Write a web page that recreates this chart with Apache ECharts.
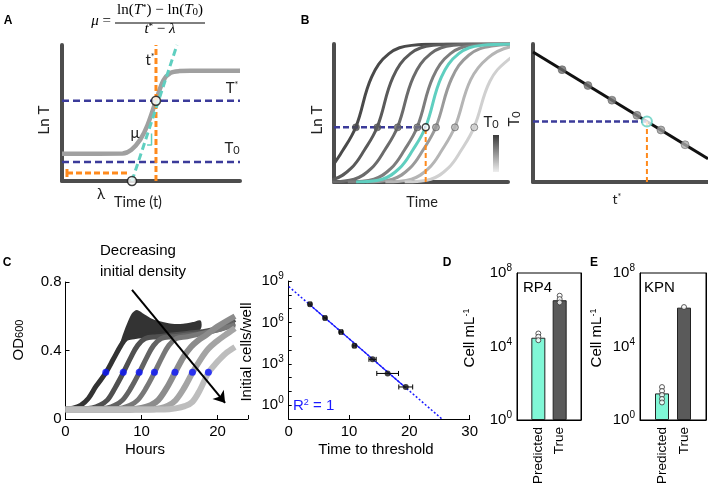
<!DOCTYPE html>
<html><head><meta charset="utf-8">
<script src="https://cdn.jsdelivr.net/npm/echarts@6/dist/echarts.min.js"></script>
<style>html,body{margin:0;padding:0;background:#fff}#c{width:708px;height:496px}</style>
</head><body><div id="c"></div>
<script>
// ================= DATA =================
// Panel A (schematic, arbitrary units 0-10)
const aCurveT   = [0, 3.4, 3.9, 4.4, 4.8, 5.28, 5.7, 6.1, 6.6, 7.2, 10];
const aCurveLnT = [2.0, 2.02, 2.3, 3.05, 4.1, 5.9, 7.4, 7.95, 8.08, 8.1, 8.1];
const aThresholdLnT = 5.9;   // T*
const aInitialLnT = 1.4;     // T0
const aThresholdTime = 5.28; // t*
const aLagTime = 3.93;       // lambda
const aTangentT = [3.93, 6.46];
const aTangentLnT = [0, 10];
const aLagBarT = [0.28, 3.7];
const aLagBarLnT = 0.59;

// Panel B left (schematic growth curves)
const bCurveT = [
  [-2.74,-1.24,-0.24,0.51,1.26,2.16,3.16,4.46,6.26,12],
  [-1.51,-0.01,0.99,1.74,2.49,3.39,4.39,5.69,7.49,12],
  [-0.34,1.16,2.16,2.91,3.66,4.56,5.56,6.86,8.66,12],
  [0.79,2.29,3.29,4.04,4.79,5.69,6.69,7.99,9.79,12],
  [1.27,2.77,3.77,4.52,5.27,6.17,7.17,8.47,10.27,12],
  [1.86,3.36,4.36,5.11,5.86,6.76,7.76,9.06,10.86,12],
  [2.95,4.45,5.45,6.2,6.95,7.85,8.85,10.15,11.95,13],
  [4.06,5.56,6.56,7.31,8.06,8.96,9.96,11.26,13.06,14]
];
const bCurveLnT = [
  [0,0.2,1.0,2.3,4.0,7.6,9.3,9.9,10,10],
  [0,0.2,1.0,2.3,4.0,7.6,9.3,9.9,10,10],
  [0,0.2,1.0,2.3,4.0,7.6,9.3,9.9,10,10],
  [0,0.2,1.0,2.3,4.0,7.6,9.3,9.9,10,10],
  [0,0.2,1.0,2.3,4.0,7.6,9.3,9.9,10,10],
  [0,0.2,1.0,2.3,4.0,7.5,9.2,9.85,10,10],
  [0,0.2,1.0,2.3,4.0,7.4,9.0,9.8,10,10],
  [0,0.2,1.0,2.3,4.0,7.3,8.8,9.7,10,10]
];
const bCurveColors = ['#4a4a4a','#5a5a5a','#6b6b6b','#7d7d7d','#5fcfc0','#9a9a9a','#b5b5b5','#d0d0d0'];
const bCrossT = [1.26, 2.49, 3.66, 4.79, 5.27, 5.86, 6.95, 8.06];
const bThresholdLnT = 3.96;
const bTealIndex = 4;
// Panel B right
const bLineT = [0, 10];
const bLineT0 = [9.42, 1.69];
const bDotT = [1.66, 3.14, 4.51, 5.94, 7.31, 8.69];
const bDotT0 = [8.14, 6.99, 5.93, 4.83, 3.77, 2.70];
const bDotColors = ['#6a6a6a','#727272','#7c7c7c','#888888','#999999','#aaaaaa'];
const bQueryT = 6.51, bQueryT0 = 4.39;

// Panel C left: OD600 growth curves (hours, OD)
const cGroupHours = [
  [0,1,2,3,4,5.3,6.3,7.3,8,9,11,13,15,17.7],
  [0,2,3.5,4.5,5.5,6.5,7.6,8.6,9.5,10.5,12,14,16,18,20,22.3],
  [0,4,5.5,6.5,7.5,8.6,9.7,10.7,11.6,12.6,14,16,18,20,22.3],
  [0,6,7.5,8.5,9.5,10.6,11.7,12.7,13.6,14.6,16,18,20,22.3],
  [0,8.5,10,11.2,12.2,13.3,14.4,15.5,16.5,17.5,18.5,20,22.3],
  [0,11,12.5,13.5,14.5,15.6,16.7,17.8,18.8,19.8,21,22.3],
  [0,13,14.5,15.7,16.7,17.7,18.8,19.9,21,22.3]
];
const cGroupOD = [
  [0.058,0.063,0.08,0.12,0.19,0.27,0.35,0.43,0.47,0.48,0.49,0.5,0.51,0.53],
  [0.058,0.06,0.065,0.08,0.11,0.18,0.27,0.36,0.43,0.47,0.48,0.49,0.5,0.51,0.53,0.58],
  [0.058,0.058,0.065,0.08,0.11,0.18,0.27,0.36,0.43,0.47,0.48,0.49,0.5,0.52,0.56],
  [0.057,0.057,0.065,0.08,0.11,0.18,0.27,0.36,0.43,0.47,0.48,0.5,0.52,0.55],
  [0.056,0.056,0.064,0.08,0.11,0.18,0.27,0.36,0.42,0.46,0.49,0.54,0.6],
  [0.055,0.055,0.063,0.078,0.11,0.18,0.27,0.35,0.41,0.45,0.49,0.53],
  [0.055,0.055,0.062,0.075,0.1,0.17,0.27,0.33,0.38,0.42]
];
const cGroupColors = ['#333333','#505050','#636363','#787878','#8c8c8c','#a4a4a4','#bdbdbd'];
// replicate spread of the densest culture
const cBandHours = [7.3, 8, 8.8, 9.4, 10.2, 11.3, 12.4, 14, 15.5, 16.8, 17.7];
const cBandLow   = [0.43,0.47,0.475,0.48,0.485,0.49,0.495,0.5,0.51,0.52,0.53];
const cBandHigh  = [0.44,0.53,0.61,0.63,0.61,0.58,0.565,0.55,0.55,0.56,0.57];
const cThresholdHours = [5.3, 7.6, 9.7, 11.7, 14.4, 16.7, 18.8];
const cThresholdOD    = [0.273,0.273,0.273,0.273,0.273,0.273,0.273];

// Panel C right: initial cells vs time to threshold
const crTime    = [3.53, 6.02, 8.67, 10.9, 13.9, 16.4, 19.4];
const crCells   = [2.1e7, 2.1e6, 2.0e5, 2.0e4, 2.1e3, 2.0e2, 21];
const crTimeErr = [0.2, 0.2, 0.25, 0.25, 0.6, 1.8, 1.15];
const crFitDottedT = [0, 25.4];
const crFitDottedCells = [4e8, 0.1];
const crFitSolidT = [3.53, 19.4];
const crFitSolidCells = [1.86e7, 18.6];

// Panel D (RP4) and E (KPN)
const barCategories = ['', 'Predicted', 'True', ''];
const dPredicted = 3.0e4, dTrue = 3.3e6;
const dPredictedReps = [5.1e4, 3.4e4, 2.2e4];
const dTrueReps = [5.8e6, 3.8e6, 2.5e6];
const ePredicted = 28, eTrue = 1.3e6;
const ePredictedReps = [62, 38, 23, 14, 9];
const eTrueReps = [1.4e6];

// ================= STYLE =================
const FA = 'Lato, "Open Sans", sans-serif';
const FC = '"Liberation Sans", Arial, Helvetica, sans-serif';
const FS = '"Liberation Serif", "DejaVu Serif", serif';
const NAVY = '#3b3b9a', ORANGE = '#ff8a1c', TEAL = '#5fcfc0', AXG = '#4d4d4d';
const lg = Math.log10;

function schemAxis(grid){
  return {type:'value', gridIndex:grid, min:0, max:10,
    axisLine:{show:true, onZero:false, lineStyle:{color:AXG, width:4}},
    axisTick:{show:false}, axisLabel:{show:false}, splitLine:{show:false}};
}
function seg(xi, yi, pts, color, width, type, z){
  return {type:'line', xAxisIndex:xi, yAxisIndex:yi, data:pts, symbol:'none', silent:true, z:z||2,
    lineStyle:{color, width, type:type||'solid'}};
}
const supRich = {
  b:{fontSize:15, color:'#000', fontFamily:FC},
  s:{fontSize:10, color:'#000', fontFamily:FC, padding:[0,0,9,0]}
};
function powLabel(show){ return v => show.includes(Math.round(v)) && Math.abs(v-Math.round(v))<1e-6 ? '{b|10}{s|'+Math.round(v)+'}' : ''; }
function matAxisX(grid, min, max, interval){
  return {type:'value', gridIndex:grid, min, max, interval,
    axisLine:{onZero:false, lineStyle:{color:'#000', width:1}},
    axisTick:{inside:true, length:4, lineStyle:{color:'#000'}},
    axisLabel:{color:'#000', fontSize:15, fontFamily:FC, margin:5,
      formatter: v => (Math.abs(v % interval) < 1e-9 ? String(v) : '')},
    splitLine:{show:false}};
}
function txt(text, x, y, o){
  o = o || {};
  const st = {text, fill:o.color||'#000', fontSize:o.size||14, fontFamily:o.font||FC,
    fontWeight:o.weight||'normal', fontStyle:o.style||'normal',
    align:o.align||'center', verticalAlign:o.va||'middle',
    textAlign:o.align||'center', textVerticalAlign:o.va||'middle'};
  if (o.rich) st.rich = o.rich;
  return {type:'text', x, y, rotation:o.rot||0, z:100, silent:true, style:st};
}
function rr(font, size, color){
  color = color || '#000';
  return {
    n:{fontFamily:font, fontSize:size, fill:color, color, padding:[0,0,3,0]},
    i:{fontFamily:font, fontSize:size, fill:color, color, fontStyle:'italic', padding:[0,0,3,0]},
    sup:{fontFamily:font, fontSize:Math.round(size*0.62), fill:color, color, padding:[0,0,Math.round(size*0.6),0]},
    sub:{fontFamily:font, fontSize:Math.round(size*0.7), fill:color, color}
  };
}

// ================= SERIES =================
const series = [];
// ---- A ----
series.push(seg(0,0,[[0,aInitialLnT],[10,aInitialLnT]], NAVY, 2.5, [7,4]));
series.push(seg(0,0,[[0,aThresholdLnT],[10,aThresholdLnT]], NAVY, 2.5, [7,4]));
series.push({type:'line', xAxisIndex:0, yAxisIndex:0, symbol:'none', smooth:0.35, silent:true,
  data:aCurveT.map((t,i)=>[t,aCurveLnT[i]]), lineStyle:{color:'#a0a0a0', width:4.5}});
series.push(seg(0,0,[[aLagBarT[0],aLagBarLnT],[aLagBarT[1],aLagBarLnT]], ORANGE, 3, [6,3], 3));
series.push(seg(0,0,[[aLagBarT[0],aLagBarLnT-0.3],[aLagBarT[0],aLagBarLnT+0.3]], ORANGE, 3, 'solid', 3));
series.push(seg(0,0,[[aThresholdTime,0],[aThresholdTime,10]], ORANGE, 3, [6,3], 3));
series.push(seg(0,0,aTangentT.map((t,i)=>[t,aTangentLnT[i]]), TEAL, 3, [7,4], 4));
series.push(seg(0,0,[[4.78,2.65],[5.03,2.65],[5.03,3.5]], TEAL, 1.5, 'solid', 4));
series.push({type:'scatter', xAxisIndex:0, yAxisIndex:0, symbolSize:9, z:5, silent:true,
  data:[[aLagTime,0],[aThresholdTime,aThresholdLnT]],
  itemStyle:{color:'#fff', borderColor:'#111', borderWidth:1.5}});

// ---- B left ----
bCurveT.forEach((ts,k)=>{
  series.push({type:'line', xAxisIndex:1, yAxisIndex:1, symbol:'none', smooth:0.4, silent:true,
    z: k===bTealIndex ? 3 : 2,
    data:ts.map((t,i)=>[t,bCurveLnT[k][i]]), lineStyle:{color:bCurveColors[k], width:3}});
});
series.push(seg(1,1,[[0,bThresholdLnT],[bCrossT[bTealIndex],bThresholdLnT]], NAVY, 2.5, [6,3], 4));
series.push(seg(1,1,[[bCrossT[bTealIndex],0],[bCrossT[bTealIndex],bThresholdLnT]], ORANGE, 2, [5,3], 4));
series.push({type:'scatter', xAxisIndex:1, yAxisIndex:1, symbolSize:7, z:5, silent:true,
  data:bCrossT.map((t,k)=>({value:[t,bThresholdLnT],
    itemStyle: k===bTealIndex ? {color:'#fff', borderColor:'#111', borderWidth:1.5}
                              : {color:bCurveColors[k], borderColor:'#555', borderWidth:0.8}}))});
// ---- B right ----
series.push(seg(2,2,bLineT.map((t,i)=>[t,bLineT0[i]]), '#111', 3));
series.push(seg(2,2,[[0,bQueryT0],[bQueryT,bQueryT0]], NAVY, 2.5, [6,3], 3));
series.push(seg(2,2,[[bQueryT,0],[bQueryT,bQueryT0]], ORANGE, 2, [5,3], 3));
series.push({type:'scatter', xAxisIndex:2, yAxisIndex:2, symbolSize:8, z:5, silent:true,
  data:bDotT.map((t,i)=>({value:[t,bDotT0[i]], itemStyle:{color:bDotColors[i], borderColor:'#555', borderWidth:0.6}}))});
series.push({type:'scatter', xAxisIndex:2, yAxisIndex:2, symbolSize:10, z:6, silent:true,
  data:[[bQueryT,bQueryT0]], itemStyle:{color:'#fff', borderColor:TEAL, borderWidth:2}});

// ---- C left ----
series.push({type:'custom', xAxisIndex:3, yAxisIndex:3, silent:true, z:2,
  data:[[cBandHours[0], cBandLow[0]]],
  renderItem:(params, api)=>{
    const pts = [];
    cBandHours.forEach((h,i)=>pts.push(api.coord([h, cBandHigh[i]])));
    for (let i=cBandHours.length-1;i>=0;i--) pts.push(api.coord([cBandHours[i], cBandLow[i]]));
    return {type:'polygon', shape:{points:pts, smooth:0.25}, style:{fill:cGroupColors[0], stroke:cGroupColors[0], lineWidth:2}};
  }});
cGroupHours.forEach((hs,k)=>{
  series.push({type:'line', xAxisIndex:3, yAxisIndex:3, symbol:'none', smooth:0.35, silent:true,
    data:hs.map((h,i)=>[h,cGroupOD[k][i]]), lineStyle:{color:cGroupColors[k], width:k<4?5:6}});
});
series.push({type:'scatter', xAxisIndex:3, yAxisIndex:3, symbolSize:7, z:5, silent:true,
  data:cThresholdHours.map((h,i)=>[h,cThresholdOD[i]]), itemStyle:{color:'#0a14ff'},
  markLine:{silent:true, animation:false, symbol:['none','arrow'], symbolSize:11,
    label:{show:false}, lineStyle:{color:'#000', width:2, type:'solid'},
    data:[[{coord:[8.75,0.754]},{coord:[21.0,0.094]}]]}});

// ---- C right ----
series.push({type:'line', xAxisIndex:4, yAxisIndex:4, symbol:'none', silent:true,
  data:crFitDottedT.map((t,i)=>[t,lg(crFitDottedCells[i])]), lineStyle:{color:'#1a1aff', width:1.5, type:[2,2]}});
series.push({type:'line', xAxisIndex:4, yAxisIndex:4, symbol:'none', silent:true, z:3,
  data:crFitSolidT.map((t,i)=>[t,lg(crFitSolidCells[i])]), lineStyle:{color:'#1a1aff', width:1.2}});
series.push({type:'custom', xAxisIndex:4, yAxisIndex:4, z:4, silent:true,
  data:crTime.map((t,i)=>[t-crTimeErr[i], t+crTimeErr[i], lg(crCells[i])]),
  encode:{x:[0,1], y:2},
  renderItem:(params, api)=>{
    const a = api.coord([api.value(0), api.value(2)]);
    const b = api.coord([api.value(1), api.value(2)]);
    const st = {stroke:'#000', lineWidth:1};
    return {type:'group', children:[
      {type:'line', shape:{x1:a[0],y1:a[1],x2:b[0],y2:b[1]}, style:st},
      {type:'line', shape:{x1:a[0],y1:a[1]-2.5,x2:a[0],y2:a[1]+2.5}, style:st},
      {type:'line', shape:{x1:b[0],y1:b[1]-2.5,x2:b[0],y2:b[1]+2.5}, style:st}
    ]};
  }});
series.push({type:'scatter', xAxisIndex:4, yAxisIndex:4, symbolSize:6, z:5, silent:true,
  data:crTime.map((t,i)=>[t,lg(crCells[i])]), itemStyle:{color:'#111'}});

// ---- D & E ----
function barPanel(xi, yi, pred, tru, predReps, trueReps){
  series.push({type:'bar', xAxisIndex:xi, yAxisIndex:yi, barWidth:14, silent:true,
    data:['-', {value:lg(pred), itemStyle:{color:'#80f7d6'}}, {value:lg(tru), itemStyle:{color:'#5a5a5a'}}, '-'],
    itemStyle:{borderColor:'#222', borderWidth:1}});
  series.push({type:'scatter', xAxisIndex:xi, yAxisIndex:yi, symbolSize:5, z:5, silent:true,
    data:predReps.map(v=>[1,lg(v)]).concat(trueReps.map(v=>[2,lg(v)])),
    itemStyle:{color:'#fff', borderColor:'#333', borderWidth:1}});
}
barPanel(5, 5, dPredicted, dTrue, dPredictedReps, dTrueReps);
barPanel(6, 7, ePredicted, eTrue, ePredictedReps, eTrueReps);

// ================= AXES =================
function catAxis(grid){
  return {type:'category', gridIndex:grid, data:barCategories, boundaryGap:false,
    axisLine:{onZero:false, lineStyle:{color:'#000', width:1}},
    axisTick:{inside:true, length:3, interval:(i)=>i===1||i===2, lineStyle:{color:'#000'}},
    axisLabel:{interval:0, rotate:90, color:'#000', fontSize:13.5, fontFamily:FC, margin:7},
    splitLine:{show:false}};
}
function logBarAxis(grid, right){
  return {type:'value', gridIndex:grid, min:0, max:8, interval:1, position:right?'right':'left',
    axisLine:{show:true, onZero:false, lineStyle:{color:'#000', width:1}},
    axisTick:{inside:true, length:3, lineStyle:{color:'#000'}},
    axisLabel: right ? {show:false} : {color:'#000', margin:5, formatter:powLabel([0,4,8]), rich:supRich},
    splitLine:{show:false}};
}
const gridBase = {containLabel:false, outerBoundsMode:'none'};
const option = {
  animation:false,
  backgroundColor:'#fff',
  grid:[
    Object.assign({left:62, top:45, width:178, height:136}, gridBase),
    Object.assign({left:334, top:44, width:174, height:138}, gridBase),
    Object.assign({left:533, top:44, width:175, height:138}, gridBase),
    Object.assign({left:65.5, top:282, width:182.4, height:137}, gridBase),
    Object.assign({left:288.7, top:281, width:181, height:138}, gridBase),
    Object.assign({left:517, top:273, width:64, height:147, show:true, borderColor:'#000', borderWidth:1}, gridBase),
    Object.assign({left:640, top:273, width:66, height:147, show:true, borderColor:'#000', borderWidth:1}, gridBase)
  ],
  xAxis:[
    schemAxis(0), schemAxis(1), schemAxis(2),
    matAxisX(3, 0, 24, 10),
    matAxisX(4, 0, 30, 10),
    catAxis(5), catAxis(6)
  ],
  yAxis:[
    schemAxis(0), schemAxis(1), schemAxis(2),
    {type:'value', gridIndex:3, min:0, max:0.8, interval:0.4,
      axisLine:{show:true, onZero:false, lineStyle:{color:'#000', width:1}},
      axisTick:{inside:true, length:4, lineStyle:{color:'#000'}},
      axisLabel:{color:'#000', fontSize:15, fontFamily:FC, margin:4, formatter:v=>v===0?'0':v.toFixed(1)},
      splitLine:{show:false}},
    {type:'value', gridIndex:4, min:-1, max:9, interval:1,
      axisLine:{show:true, onZero:false, lineStyle:{color:'#000', width:1}},
      axisTick:{inside:true, length:3, lineStyle:{color:'#000'}},
      axisLabel:{color:'#000', margin:5, formatter:powLabel([0,3,6,9]), rich:supRich},
      splitLine:{show:false}},
    logBarAxis(5,false), logBarAxis(5,true),
    logBarAxis(6,false), logBarAxis(6,true)
  ],
  series,
  graphic:{elements:[
    // panel letters
    txt('A', 8, 21, {weight:'bold', size:12}),
    txt('B', 305, 21, {weight:'bold', size:12}),
    txt('C', 7, 263, {weight:'bold', size:12}),
    txt('D', 447, 263, {weight:'bold', size:12}),
    txt('E', 594, 263, {weight:'bold', size:12}),
    // formula
    txt('{i|μ}{n| =}', 101, 23, {rich:rr(FS,15)}),
    txt('{n|ln(}{i|T}{sup|*}{n|) − ln(}{i|T}{sub|0}{n|)}', 160, 12, {rich:rr(FS,15)}),
    {type:'line', z:100, silent:true, shape:{x1:115, y1:23, x2:205, y2:23}, style:{stroke:'#000', lineWidth:1}},
    txt('{i|t}{sup|*}{n| − }{i|λ}', 160, 31, {rich:rr(FS,15)}),
    // A labels
    txt('{n|t}{sup|*}', 150, 62, {rich:rr(FA,15,'#222')}),
    txt('{n|T}{sup|*}', 232, 90, {rich:rr(FA,15,'#222')}),
    txt('{n|T}{sub|0}', 232, 150, {rich:rr(FA,15,'#222')}),
    txt('μ', 135, 133, {font:FA, size:15, color:'#222'}),
    txt('λ', 101, 194, {font:FA, size:15, color:'#222'}),
    txt('Time (t)', 138, 202, {font:FA, size:14.5, color:'#222'}),
    txt('Ln T', 44, 120, {font:FA, size:15, color:'#222', rot:Math.PI/2}),
    // B labels
    txt('Ln T', 317, 120, {font:FA, size:15, color:'#222', rot:Math.PI/2}),
    txt('Time', 422, 202, {font:FA, size:14.5, color:'#222'}),
    txt('{n|T}{sub|0}', 491, 124, {rich:rr(FA,15,'#222')}),
    txt('{n|T}{sub|0}', 516, 119, {rich:rr(FA,15,'#222'), rot:Math.PI/2}),
    txt('{n|t}{sup|*}', 617, 201, {rich:rr(FA,14,'#222')}),
    {type:'rect', z:100, silent:true, shape:{x:493, y:135, width:6, height:37},
      style:{fill:{type:'linear', x:0, y:0, x2:0, y2:1, colorStops:[{offset:0,color:'#3a3a3a'},{offset:1,color:'#eeeeee'}]}}},
    // C labels
    txt('Decreasing', 100, 251, {size:15, align:'left'}),
    txt('initial density', 100, 272, {size:15, align:'left'}),
    txt('{n|OD}{sub|600}', 20, 340, {rich:rr(FC,15), rot:Math.PI/2}),
    txt('Hours', 145, 450, {size:15}),
    txt('Initial cells/well', 247, 352, {size:15, rot:Math.PI/2}),
    txt('Time to threshold', 376, 450, {size:15}),
    txt('{n|R}{sup|2}{n| = 1}', 293, 407, {align:'left', rich:rr(FC,15,'#1a1aff')}),
    // D/E labels
    txt('RP4', 523, 288, {size:15, align:'left'}),
    txt('KPN', 644, 288, {size:15, align:'left'}),
    txt('{n|Cell mL}{sup|-1}', 471, 338, {rich:rr(FC,15), rot:Math.PI/2}),
    txt('{n|Cell mL}{sup|-1}', 598, 338, {rich:rr(FC,15), rot:Math.PI/2})
  ]}
};
const chart = echarts.init(document.getElementById('c'), null, {renderer:'canvas'});
chart.setOption(option);
</script>
</body></html>
